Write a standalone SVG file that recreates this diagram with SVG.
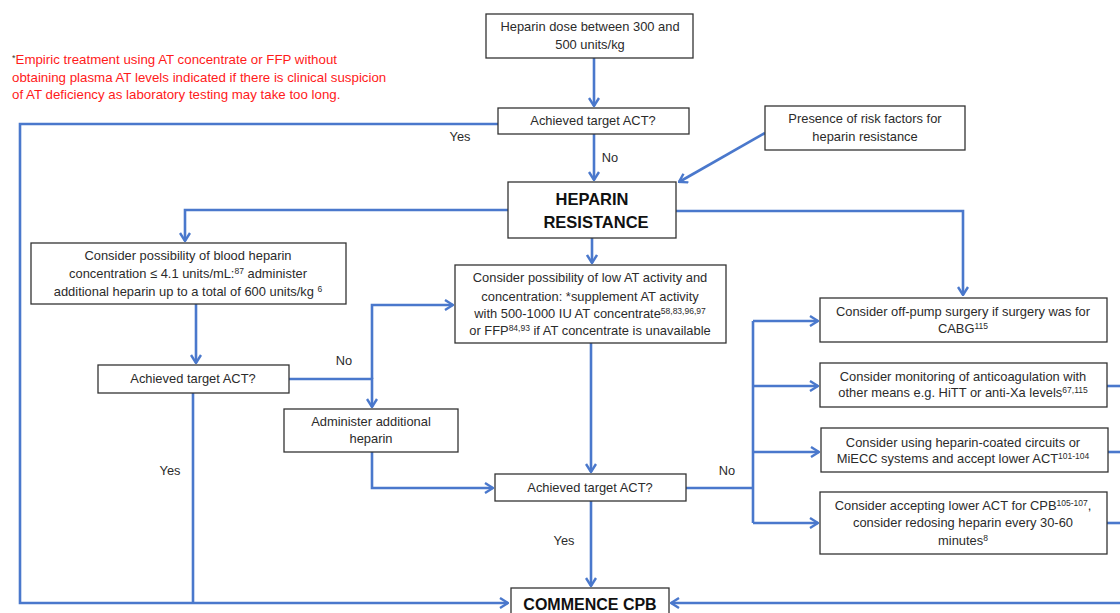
<svg xmlns="http://www.w3.org/2000/svg" width="1120" height="613" viewBox="0 0 1120 613">
<style>
.box{fill:#fff;stroke:#333;stroke-width:1.3}
.t{font-family:"Liberation Sans",Arial,sans-serif;font-size:12.9px;fill:#2b2b2b;text-anchor:middle}
.lbl{font-family:"Liberation Sans",Arial,sans-serif;font-size:12.8px;fill:#2b2b2b;text-anchor:middle}
.b{font-family:"Liberation Sans",Arial,sans-serif;font-weight:bold;fill:#111;text-anchor:middle}
.red{font-family:"Liberation Sans",Arial,sans-serif;font-size:13.3px;fill:#ff1a1a}
.c{fill:none;stroke:#4a78cc;stroke-width:2.6}
.s{font-size:8.5px}
</style>
<defs>
<marker id="a" viewBox="0 0 10 12" refX="9" refY="6" markerWidth="10" markerHeight="12" markerUnits="userSpaceOnUse" orient="auto">
<path d="M1,1 L9,6 L1,11" fill="none" stroke="#4a78cc" stroke-width="2.4"/>
</marker>
</defs>
<rect width="1120" height="613" fill="#fff"/>
<g id="note">
<text class="red" x="12" y="64"><tspan fill="#333" font-size="9" dy="-3">*</tspan><tspan dy="3">Empiric treatment using AT concentrate or FFP without</tspan></text>
<text class="red" x="12" y="82">obtaining plasma AT levels indicated if there is clinical suspicion</text>
<text class="red" x="12" y="99">of AT deficiency as laboratory testing may take too long.</text>
</g>
<g id="connectors">
<path class="c" d="M594,58 V106" marker-end="url(#a)"/>
<path class="c" d="M594,134 V180" marker-end="url(#a)"/>
<path class="c" d="M765,133 L679,182" marker-end="url(#a)"/>
<path class="c" d="M498,124 H20 V603 H508" marker-end="url(#a)"/>
<path class="c" d="M508,210 H185 V241" marker-end="url(#a)"/>
<path class="c" d="M676,211 H963 V295" marker-end="url(#a)"/>
<path class="c" d="M592,238 V263" marker-end="url(#a)"/>
<path class="c" d="M196,304 V363" marker-end="url(#a)"/>
<path class="c" d="M193,393 V603"/>
<path class="c" d="M289,379 H372 V407" marker-end="url(#a)"/>
<path class="c" d="M372,379 V305 H453" marker-end="url(#a)"/>
<path class="c" d="M372,452 V488 H493" marker-end="url(#a)"/>
<path class="c" d="M591,343 V472" marker-end="url(#a)"/>
<path class="c" d="M591,501 V586" marker-end="url(#a)"/>
<path class="c" d="M686,488 H753"/>
<path class="c" d="M753,321 V523"/>
<path class="c" d="M753,321 H818" marker-end="url(#a)"/>
<path class="c" d="M753,386 H818" marker-end="url(#a)"/>
<path class="c" d="M753,452 H819" marker-end="url(#a)"/>
<path class="c" d="M753,523 H818" marker-end="url(#a)"/>
<path class="c" d="M1107,386 H1125"/>
<path class="c" d="M1108,452 H1125"/>
<path class="c" d="M1107,523 H1125"/>
<path class="c" d="M1125,603 H671" marker-end="url(#a)"/>
<text class="lbl" x="460" y="141">Yes</text>
<text class="lbl" x="610" y="162">No</text>
<text class="lbl" x="344" y="365">No</text>
<text class="lbl" x="170" y="475">Yes</text>
<text class="lbl" x="564" y="545">Yes</text>
<text class="lbl" x="727" y="475">No</text>
</g>
<g id="start">
<rect class="box" x="486" y="14" width="207" height="44"/>
<text class="t" x="590" y="31">Heparin dose between 300 and</text>
<text class="t" x="590" y="49">500 units/kg</text>
</g>
<g id="act1">
<rect class="box" x="498" y="108" width="191" height="26"/>
<text class="t" x="593" y="125">Achieved target ACT?</text>
</g>
<g id="risk">
<rect class="box" x="765" y="106" width="200" height="44"/>
<text class="t" x="865" y="123">Presence of risk factors for</text>
<text class="t" x="865" y="141">heparin resistance</text>
</g>
<g id="hr">
<rect class="box" x="508" y="182" width="168" height="56"/>
<text class="b" x="592" y="205" font-size="16.5">HEPARIN</text>
<text class="b" x="596" y="228" font-size="16.5">RESISTANCE</text>
</g>
<g id="blood">
<rect class="box" x="31" y="243" width="315" height="61"/>
<text class="t" x="188" y="260">Consider possibility of blood heparin</text>
<text class="t" x="188" y="278">concentration ≤ 4.1 units/mL:<tspan class="s" dy="-4">87</tspan><tspan dy="4"> administer</tspan></text>
<text class="t" x="188" y="296">additional heparin up to a total of 600 units/kg <tspan class="s" dy="-4">6</tspan></text>
</g>
<g id="act2">
<rect class="box" x="98" y="365" width="191" height="28"/>
<text class="t" x="193" y="383">Achieved target ACT?</text>
</g>
<g id="admin">
<rect class="box" x="284" y="409" width="174" height="43"/>
<text class="t" x="371" y="426">Administer additional</text>
<text class="t" x="371" y="443">heparin</text>
</g>
<g id="at">
<rect class="box" x="455" y="265" width="271" height="78"/>
<text class="t" x="590" y="282">Consider possibility of low AT activity and</text>
<text class="t" x="590" y="301">concentration:  *supplement AT activity</text>
<text class="t" x="590" y="318">with 500-1000 IU AT concentrate<tspan class="s" dy="-4">58,83,96,97</tspan></text>
<text class="t" x="590" y="335">or FFP<tspan class="s" dy="-4">84,93</tspan><tspan dy="4"> if AT concentrate is unavailable</tspan></text>
</g>
<g id="act3">
<rect class="box" x="495" y="474" width="191" height="27"/>
<text class="t" x="590" y="492">Achieved target ACT?</text>
</g>
<g id="optA">
<rect class="box" x="820" y="298" width="287" height="44"/>
<text class="t" x="963" y="316">Consider off-pump surgery if surgery was for</text>
<text class="t" x="963" y="333">CABG<tspan class="s" dy="-4">115</tspan></text>
</g>
<g id="optB">
<rect class="box" x="820" y="363" width="287" height="44"/>
<text class="t" x="963" y="381">Consider monitoring of anticoagulation with</text>
<text class="t" x="963" y="397">other means e.g. HiTT or anti-Xa levels<tspan class="s" dy="-4">67,115</tspan></text>
</g>
<g id="optC">
<rect class="box" x="821" y="428" width="287" height="44"/>
<text class="t" x="963" y="447">Consider using heparin-coated circuits or</text>
<text class="t" x="963" y="463">MiECC systems and accept lower ACT<tspan class="s" dy="-4">101-104</tspan></text>
</g>
<g id="optD">
<rect class="box" x="820" y="492" width="287" height="62"/>
<text class="t" x="963" y="510">Consider accepting lower ACT for CPB<tspan class="s" dy="-4">105-107</tspan><tspan dy="4">,</tspan></text>
<text class="t" x="963" y="527">consider redosing heparin every 30-60</text>
<text class="t" x="963" y="545">minutes<tspan class="s" dy="-4">8</tspan></text>
</g>
<g id="cpb">
<rect class="box" x="511" y="588" width="158" height="35"/>
<text class="b" x="590" y="610" font-size="16">COMMENCE CPB</text>
</g>
</svg>
